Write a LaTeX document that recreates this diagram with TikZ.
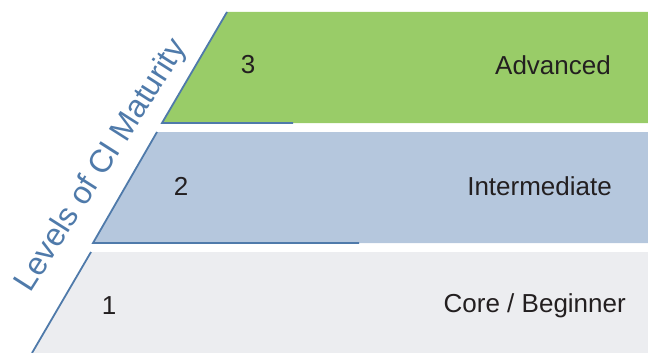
\documentclass[tikz,border=0pt]{standalone}
\usepackage{fontspec}
\setmainfont{Liberation Sans}
\definecolor{bandgreen}{HTML}{99CC68}
\definecolor{bandblue}{HTML}{B5C7DD}
\definecolor{bandgray}{HTML}{ECEDF0}
\definecolor{edgeblue}{HTML}{4F7AAA}
\definecolor{txt}{HTML}{231F20}
\tikzset{
  edgeline/.style={draw=edgeblue, line width=1.8pt},
  lvlnum/.style={text=txt, font=\fontsize{26}{30}\selectfont, inner sep=0pt},
  lvlname/.style={text=txt, font=\fontsize{26}{30}\selectfont, inner sep=0pt, anchor=east},
}
\begin{document}
\begin{tikzpicture}[x=1pt,y=-1pt]
\useasboundingbox (0,0) rectangle (648,353);
% bands
\fill[bandgreen] (227,12) -- (648,12) -- (648,123) -- (162,123) -- cycle;
\fill[bandblue] (157,132) -- (648,132) -- (648,243) -- (93,243) -- cycle;
\fill[bandgray] (91,252) -- (648,252) -- (648,353) -- (32,353) -- cycle;
% edges
\coordinate (g1) at (227,12); \coordinate (g2) at (162,123); \coordinate (g3) at (293,123);
\coordinate (b1) at (157,132); \coordinate (b2) at (93,243); \coordinate (b3) at (359,243);
\coordinate (c1) at (91,252); \coordinate (c2) at (32,353);
\draw[edgeline, line join=miter] (g1) -- (g2) -- (g3);
\draw[edgeline, line join=miter] (b1) -- (b2) -- (b3);
\draw[edgeline] (c1) -- (c2);
% labels
\node[lvlnum] (n3) at (248,65) {3};
\node[lvlname] (t3) at (611,65) {Advanced};
\node[lvlnum] (n2) at (181,186) {2};
\node[lvlname] (t2) at (612,186) {Intermediate};
\node[lvlnum] (n1) at (109,306) {1};
\node[lvlname] (t1) at (626,306) {Core / Beginner};
\node[text=edgeblue, font=\fontsize{32}{36}\selectfont, rotate=57.5, inner sep=0pt] (title) at (102,166) {Levels of CI Maturity};
\end{tikzpicture}
\end{document}
